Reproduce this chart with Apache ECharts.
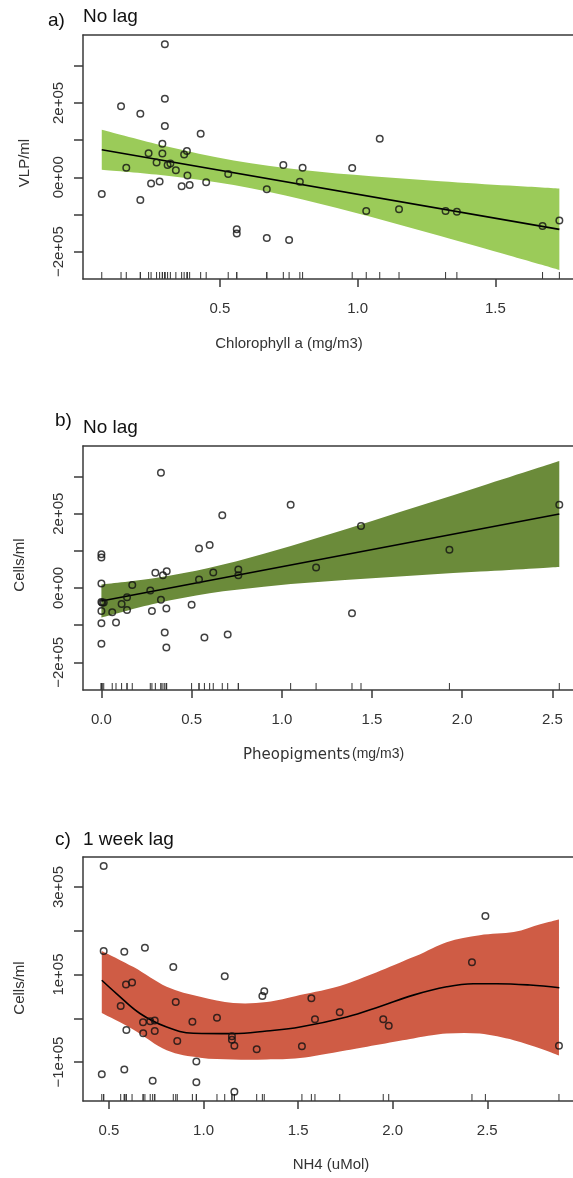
<!DOCTYPE html>
<html><head><meta charset="utf-8">
<script src="https://cdn.jsdelivr.net/npm/echarts@6/dist/echarts.min.js"></script>
<style>html,body{margin:0;padding:0;background:#fff}#c{width:573px;height:1178px}</style>
</head><body><div id="c"></div>
<script>
// ---------- Panel a: Chlorophyll a vs VLP/ml ----------
var chlX = [0.071,0.141,0.160,0.211,0.211,0.241,0.25,0.270,0.281,0.291,0.291,0.30,0.30,0.30,0.31,0.32,0.34,0.361,0.370,0.380,0.382,0.39,0.43,0.45,0.53,0.561,0.561,0.67,0.67,0.73,0.751,0.79,0.80,0.98,1.031,1.08,1.15,1.319,1.36,1.671,1.732];
var chlY = [-45000,191000,26000,171000,-61000,65000,-17000,40000,-11000,90000,64000,358000,211000,138000,33000,37000,19000,-24000,61000,71000,5000,-21000,117000,-13000,9000,-140000,-151000,-32000,-163000,33000,-169000,-12000,26000,25000,-91000,104000,-86000,-91000,-93000,-131000,-116000];
var chlFitX = [0.071, 1.732];
var chlFitY = [74000, -140000];
var chlBandX  = [0.071,0.3,0.55,0.8,1.05,1.3,1.55,1.732];
var chlBandLo = [20500,4900,-20600,-59500,-107100,-158200,-210700,-249400];
var chlBandHi = [127700,84100,45200,19700,2900,-10400,-22300,-30400];

// ---------- Panel b: Pheopigments vs Cells/ml ----------
var pheoX = [0,0,0,0,0.005,0.013,0,0,0,0.06,0.081,0.112,0.142,0.142,0.171,0.271,0.28,0.299,0.33,0.33,0.341,0.351,0.362,0.36,0.36,0.50,0.541,0.541,0.571,0.60,0.62,0.67,0.70,0.759,0.759,1.049,1.19,1.389,1.439,1.929,2.538];
var pheoY = [91000,82000,12000,-38000,-40000,-39000,-62000,-95000,-150000,-65000,-93000,-43000,-25000,-59000,8000,-7000,-62000,41000,310000,-32000,34000,-120000,45000,-55000,-160000,-45000,106000,23000,-133000,116000,42000,196000,-125000,50000,34000,224000,55000,-68000,167000,103000,224000];
var pheoFitX = [0, 2.538];
var pheoFitY = [-35000, 199000];
var pheoBandX  = [0,0.3,0.6,0.9,1.2,1.5,1.8,2.1,2.4,2.538];
var pheoBandLo = [-79500,-41600,-14000,3600,15900,26100,35400,44100,52600,56500];
var pheoBandHi = [9500,27000,54600,92400,135300,180500,226500,273100,320000,341500];

// ---------- Panel c: NH4 vs Cells/ml (1 week lag) ----------
var nh4X = [0.472,0.472,0.462,0.562,0.581,0.581,0.59,0.592,0.622,0.68,0.681,0.69,0.718,0.731,0.742,0.742,0.840,0.853,0.861,0.941,0.962,0.962,1.071,1.112,1.150,1.150,1.163,1.163,1.281,1.311,1.321,1.52,1.57,1.589,1.72,1.950,1.979,2.419,2.49,2.879];
var nh4Y = [348000,154000,-128000,28000,152000,-117000,77000,-27000,82000,-9000,-34000,161000,-7000,-143000,-5000,-29000,117000,37000,-52000,-8000,-99000,-146000,1000,96000,-41000,-49000,-63000,-168000,-71000,51000,62000,-64000,46000,-2000,14000,-2000,-17000,128000,234000,-63000];
var nh4FitX = [0.462,0.541,0.664,0.805,0.946,1.157,1.334,1.51,1.757,1.933,2.109,2.285,2.426,2.55,2.726,2.881];
var nh4FitY = [87000,56000,11000,-20000,-34000,-35000,-29000,-20000,3000,27000,53000,72000,79000,79000,76000,70000];
var nh4BandX  = [0.462,0.63,0.805,0.982,1.157,1.334,1.51,1.757,2.109,2.285,2.46,2.64,2.78,2.879];
var nh4BandHi = [154000,117000,72000,49000,35000,37000,53000,79000,140000,174000,190000,197000,215000,226000];
var nh4BandLo = [12000,-26000,-73000,-90000,-94000,-94000,-91000,-73000,-46000,-35000,-35000,-50000,-69000,-85000];

// ---------- Tick values and labels ----------
var xTicksA = [0.5,1.0,1.5];            var xLabelsA = ['0.5','1.0','1.5'];
var xTicksB = [0,0.5,1.0,1.5,2.0,2.5];  var xLabelsB = ['0.0','0.5','1.0','1.5','2.0','2.5'];
var xTicksC = [0.5,1.0,1.5,2.0,2.5];    var xLabelsC = ['0.5','1.0','1.5','2.0','2.5'];
var yTicksAB = [-200000,-100000,0,100000,200000,300000];
var yLabValsAB = [-200000,0,200000];    var yLabelsAB = ['\u22122e+05','0e+00','2e+05'];
var yTicksC = [-100000,0,100000,200000,300000];
var yLabValsC = [-100000,100000,300000]; var yLabelsC = ['\u22121e+05','1e+05','3e+05'];

function zip(a, b) { return a.map(function (v, i) { return [v, b[i]]; }); }
function lookup(vals, labels) {
  return function (v) {
    for (var i = 0; i < vals.length; i++) if (Math.abs(vals[i] - v) < 1e-6) return labels[i];
    return '';
  };
}
// Catmull-Rom curve through pixel points (rendering only)
function curve(pts, start) {
  var d = (start ? 'M' : 'L') + pts[0][0] + ' ' + pts[0][1];
  for (var i = 0; i < pts.length - 1; i++) {
    var p0 = pts[i - 1] || pts[i], p1 = pts[i], p2 = pts[i + 1], p3 = pts[i + 2] || pts[i + 1];
    var c1 = [p1[0] + (p2[0] - p0[0]) / 6, p1[1] + (p2[1] - p0[1]) / 6];
    var c2 = [p2[0] - (p3[0] - p1[0]) / 6, p2[1] - (p3[1] - p1[1]) / 6];
    d += ' C' + c1[0] + ' ' + c1[1] + ' ' + c2[0] + ' ' + c2[1] + ' ' + p2[0] + ' ' + p2[1];
  }
  return d;
}

var FONT = '"Liberation Sans", Arial, sans-serif';
var AX = '#3a3a3a';

var panels = [
  {top: 35, xMin: 0.0029, xMax: 1.7815, yMin: -273600, yMax: 382800,
   xt: xTicksA, xl: xLabelsA, yt: yTicksAB, yv: yLabValsAB, yl: yLabelsAB,
   px: chlX, py: chlY, fx: chlFitX, fy: chlFitY, bx: chlBandX, lo: chlBandLo, hi: chlBandHi,
   color: '#9bcb59'},
  {top: 446, xMin: -0.102, xMax: 2.614, yMin: -274600, yMax: 382200,
   xt: xTicksB, xl: xLabelsB, yt: yTicksAB, yv: yLabValsAB, yl: yLabelsAB,
   px: pheoX, py: pheoY, fx: pheoFitX, fy: pheoFitY, bx: pheoBandX, lo: pheoBandLo, hi: pheoBandHi,
   color: '#6b8b3a'},
  {top: 857, xMin: 0.3627, xMax: 2.9532, yMin: -189000, yMax: 368700,
   xt: xTicksC, xl: xLabelsC, yt: yTicksC, yv: yLabValsC, yl: yLabelsC,
   px: nh4X, py: nh4Y, fx: nh4FitX, fy: nh4FitY, bx: nh4BandX, lo: nh4BandLo, hi: nh4BandHi,
   color: '#cf5c45'}
];

var grids = [], xAxes = [], yAxes = [], series = [];
panels.forEach(function (p, i) {
  grids.push({left: 83, top: p.top, width: 490, height: 244, containLabel: false});
  xAxes.push({
    type: 'value', gridIndex: i, min: p.xMin, max: p.xMax, z: 10,
    axisLine: {show: true, onZero: false, lineStyle: {color: AX, width: 1.5}},
    axisTick: {show: true, length: 8, customValues: p.xt, lineStyle: {color: AX, width: 1.5}},
    axisLabel: {customValues: p.xt, formatter: lookup(p.xt, p.xl), margin: 22,
                color: '#333', fontSize: 15, fontFamily: FONT},
    splitLine: {show: false}
  });
  xAxes.push({
    type: 'value', gridIndex: i, position: 'top', min: p.xMin, max: p.xMax, z: 10,
    axisLine: {show: true, onZero: false, lineStyle: {color: AX, width: 1.5}},
    axisTick: {show: false}, axisLabel: {show: false}, splitLine: {show: false}
  });
  yAxes.push({
    type: 'value', gridIndex: i, min: p.yMin, max: p.yMax, z: 10,
    axisLine: {show: true, onZero: false, lineStyle: {color: AX, width: 1.5}},
    axisTick: {show: true, length: 9, customValues: p.yt, lineStyle: {color: AX, width: 1.5}},
    axisLabel: {customValues: p.yv, formatter: lookup(p.yv, p.yl), rotate: 90, margin: 17,
                color: '#333', fontSize: 15, fontFamily: FONT},
    splitLine: {show: false}
  });
  var xi = 2 * i, yi = i;
  // confidence band (custom polygon through the library's coordinate conversion)
  series.push({type: 'custom', xAxisIndex: xi, yAxisIndex: yi, silent: true, z: 1,
    data: [[p.bx[0], p.hi[0]]], encode: {x: 0, y: 1},
    renderItem: (function (pp) {
      return function (params, api) {
        var up = pp.bx.map(function (x, k) { return api.coord([x, pp.hi[k]]); });
        var dn = pp.bx.map(function (x, k) { return api.coord([x, pp.lo[k]]); }).reverse();
        var d = curve(up, true) + ' ' + curve(dn, false) + ' Z';
        return {type: 'path', shape: {pathData: d}, style: {fill: pp.color, stroke: null}};
      };
    })(p)});
  // fitted line
  series.push({type: 'line', xAxisIndex: xi, yAxisIndex: yi, data: zip(p.fx, p.fy), smooth: i === 2 ? 0.4 : false,
    symbol: 'none', silent: true, lineStyle: {color: '#000', width: 1.6}, z: 3});
  // points
  series.push({type: 'scatter', xAxisIndex: xi, yAxisIndex: yi, data: zip(p.px, p.py),
    symbol: 'circle', symbolSize: 6.5, silent: true, z: 4,
    itemStyle: {color: 'rgba(255,255,255,0)', borderColor: '#111', borderWidth: 1.5}});
  // rug
  series.push({type: 'custom', xAxisIndex: xi, yAxisIndex: yi, silent: true, z: 4,
    data: p.px.map(function (v) { return [v, 0]; }),
    encode: {x: 0, y: 1},
    renderItem: function (params, api) {
      var c = api.coord([api.value(0), 0]);
      var bottom = params.coordSys.y + params.coordSys.height;
      return {type: 'line', shape: {x1: c[0], y1: bottom, x2: c[0], y2: bottom - 7},
              style: {stroke: '#333', lineWidth: 1}};
    }});
});

function txt(x, y, s, size, opts) {
  opts = opts || {};
  return {type: 'text', x: x, y: y, rotation: opts.rot || 0, z: 20,
    style: {text: s, font: size + 'px ' + (opts.family || FONT), fill: opts.fill || '#111',
            align: opts.align || 'left', verticalAlign: 'middle'}};
}

var graphics = [
  txt(48, 21, 'a)', 19), txt(83, 17, 'No lag', 19),
  txt(55, 421, 'b)', 19), txt(83, 428, 'No lag', 19),
  txt(55, 840, 'c)', 19), txt(83, 840, '1 week lag', 19),
  txt(289, 344, 'Chlorophyll a (mg/m3)', 15, {align: 'center', fill: '#333'}),
  txt(243, 755, 'Pheopigments', 15, {family: '"DejaVu Sans", sans-serif', fill: '#333'}),
  txt(352, 754, '(mg/m3)', 14, {fill: '#333'}),
  txt(331, 1165, 'NH4 (uMol)', 15, {align: 'center', fill: '#333'}),
  txt(25, 163, 'VLP/ml', 15, {align: 'center', rot: Math.PI / 2, fill: '#333'}),
  txt(20, 565, 'Cells/ml', 15, {align: 'center', rot: Math.PI / 2, fill: '#333'}),
  txt(20, 988, 'Cells/ml', 15, {align: 'center', rot: Math.PI / 2, fill: '#333'})
];

var chart = echarts.init(document.getElementById('c'), null, {renderer: 'canvas'});
chart.setOption({
  animation: false,
  backgroundColor: '#ffffff',
  grid: grids, xAxis: xAxes, yAxis: yAxes, series: series,
  graphic: graphics
});
</script>
</body></html>
